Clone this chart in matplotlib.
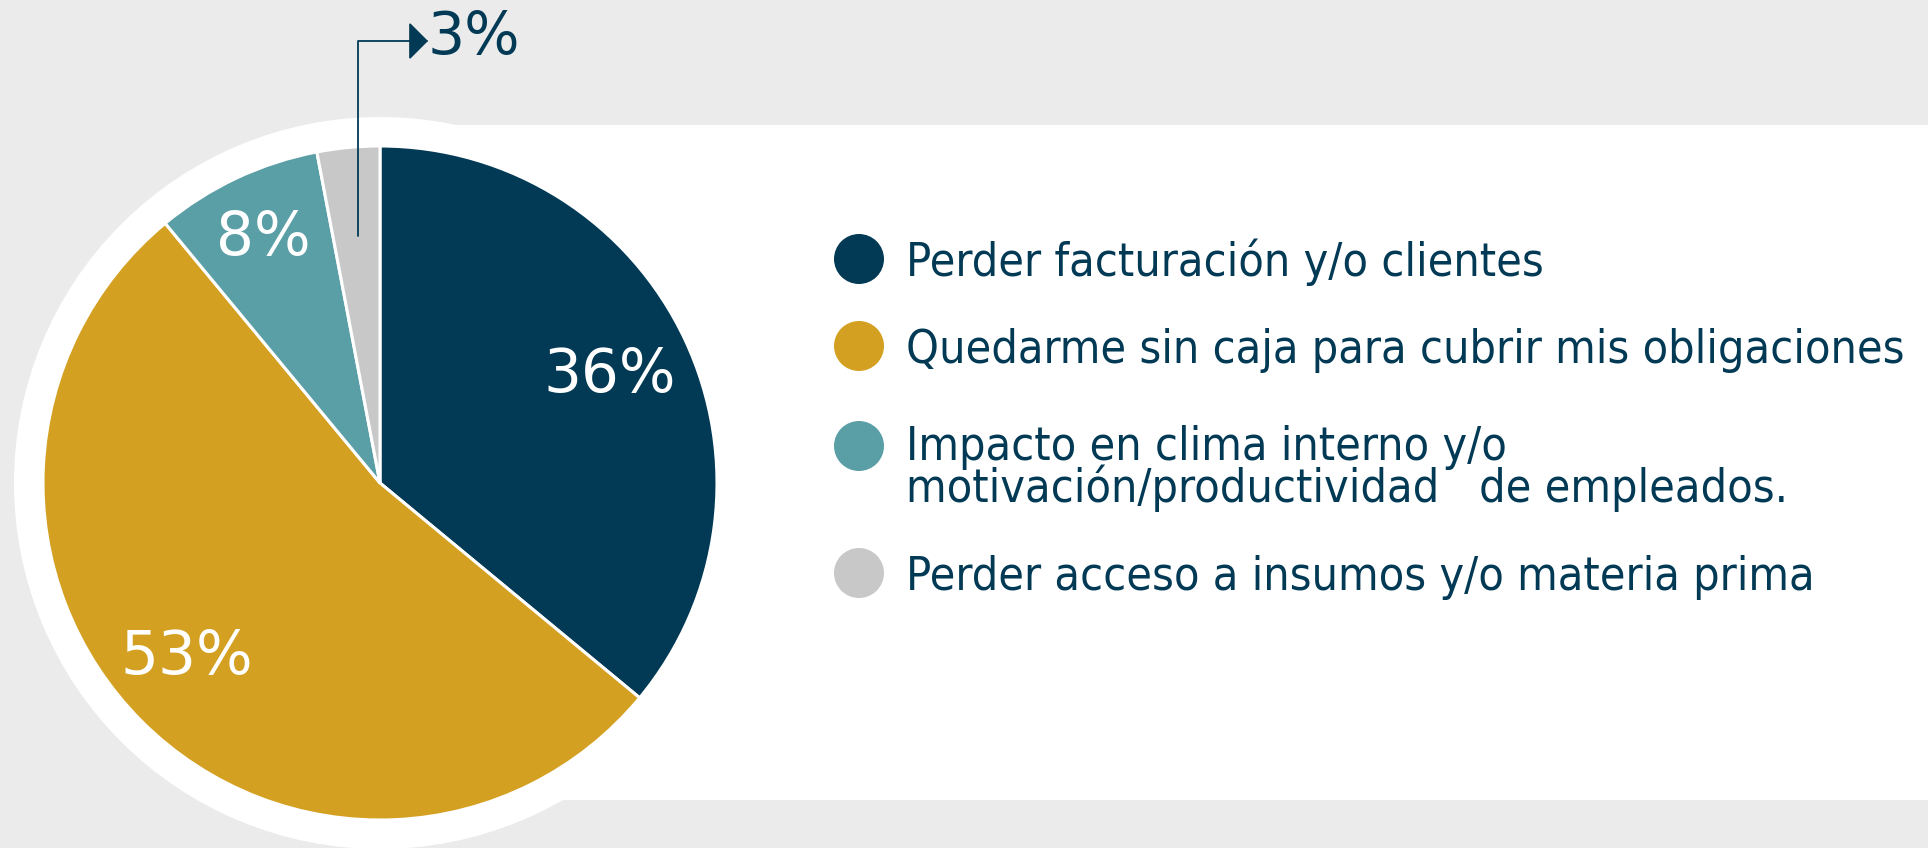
import matplotlib
matplotlib.use("Agg")
import matplotlib.pyplot as plt
from matplotlib.patches import Circle, Rectangle

# datos del gráfico
categorias = [
    "Perder facturación y/o clientes",
    "Quedarme sin caja para cubrir mis obligaciones",
    "Impacto en clima interno y/o\nmotivación/productividad   de empleados.",
    "Perder acceso a insumos y/o materia prima",
]
valores = [36, 53, 8, 3]
colores = ["#023A55", "#D3A021", "#5A9EA6", "#C8C8C8"]
etiquetas = [f"{v}%" for v in valores]

azul = "#023A55"
fondo = "#EBEBEB"

fig = plt.figure(figsize=(19.28, 8.48), dpi=100, facecolor=fondo)
ax = fig.add_axes([0, 0, 1, 1])
ax.set_facecolor(fondo)

# centro y radio del pastel (coordenadas en pixeles, y hacia arriba)
cx, cy, r = 380, 365, 337

# tarjeta blanca y aro blanco detrás del pastel
ax.add_patch(Rectangle((cx, 48), 1928 - cx, 675, facecolor="white", edgecolor="none", zorder=0))
ax.add_patch(Circle((cx, cy), 366, facecolor="white", edgecolor="none", zorder=0.5))

ax.pie(valores, colors=colores, startangle=90, counterclock=False,
       center=(cx, cy), radius=r,
       wedgeprops=dict(edgecolor="white", linewidth=2.2))

# etiquetas dentro de las porciones (línea base en y de la imagen)
pos_etiquetas = [(610, 392), (187, 674), (263, 255)]
for (x, y), txt in zip(pos_etiquetas, etiquetas[:3]):
    ax.text(x, 848 - y, txt, color="white", fontsize=43, ha="center", va="baseline")

# etiqueta externa del 3% con flecha
ax.annotate("", xy=(428, 807), xytext=(358, 612),
            arrowprops=dict(arrowstyle="-|>,head_length=0.5,head_width=0.5",
                            connectionstyle="angle,angleA=90,angleB=0,rad=0",
                            color=azul, lw=1.3, shrinkA=0, shrinkB=0,
                            mutation_scale=24))
ax.text(428, 794, etiquetas[3], color=azul, fontsize=42, ha="left", va="baseline")

# leyenda (y de la imagen: centro del círculo y línea base del último renglón)
circ_y = [259, 346, 446, 573]
base_y = [276, 363, 502, 590]
for cat, col, yc, yb in zip(categorias, colores, circ_y, base_y):
    ax.add_patch(Circle((859, 848 - yc), 25, facecolor=col, edgecolor="none"))
    ax.text(906, 848 - yb, cat, color=azul, fontsize=33.5, fontstretch="condensed",
            ha="left", va="baseline", linespacing=0.86)

ax.set_xlim(0, 1928)
ax.set_ylim(0, 848)
ax.set_aspect("equal")
ax.axis("off")

fig.savefig("out.png", dpi=100, facecolor=fondo)
